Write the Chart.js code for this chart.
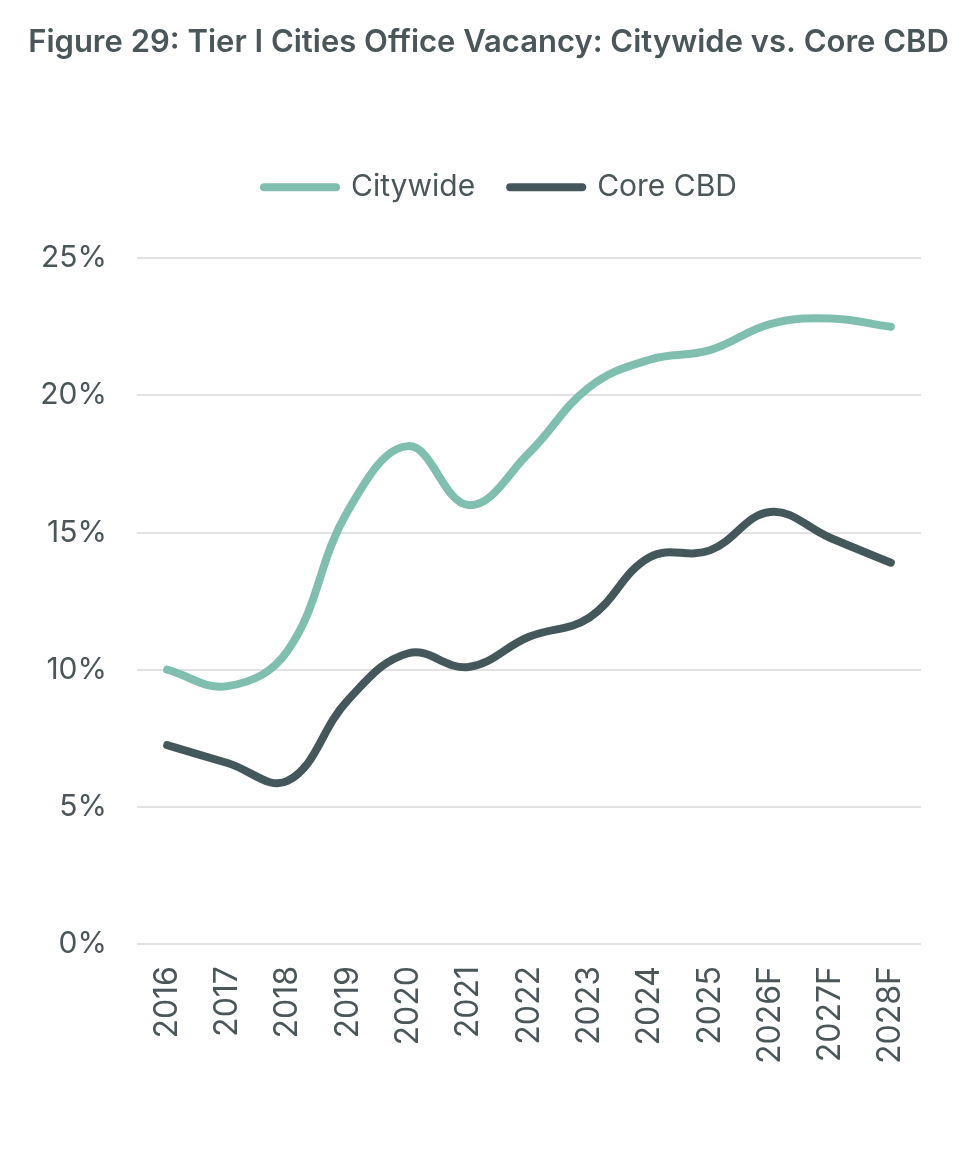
<!DOCTYPE html>
<html>
<head>
<meta charset="utf-8">
<script src="https://cdn.jsdelivr.net/npm/chart.js@4"></script>
<style>
  html, body { margin: 0; padding: 0; background: #ffffff; }
  #wrap { width: 978px; height: 1161px; }
</style>
</head>
<body>
<div id="wrap"><canvas id="vacancy"></canvas></div>
<script>
const years = ['2016', '2017', '2018', '2019', '2020', '2021', '2022', '2023', '2024', '2025', '2026F', '2027F', '2028F']
const citywide = [10.0, 9.4, 10.7, 15.8, 18.15, 16.0, 17.9, 20.3, 21.3, 21.65, 22.6, 22.8, 22.5]
const coreCBD = [7.25, 6.6, 5.95, 8.9, 10.6, 10.1, 11.2, 11.9, 14.1, 14.35, 15.75, 14.8, 13.9]
const yTicks = [0, 5, 10, 15, 20, 25]

const textColor = '#4a5659'
const fontFamily = 'Inter, Roboto, sans-serif'

// extra space under the legend, and center title/legend on the whole page like the original
const layoutTweak = {
  id: 'layoutTweak',
  beforeInit(chart) {
    const fit = chart.legend.fit
    chart.legend.fit = function () {
      fit.bind(chart.legend)()
      this.height += 46
    }
  },
  afterLayout(chart) {
    chart.legend.left += 40
    chart.legend.right += 40
    chart.titleBlock.left += 28
    chart.titleBlock.right += 28
  }
}

new Chart(document.getElementById('vacancy'), {
  type: 'line',
  plugins: [layoutTweak],
  data: {
    labels: years,
    datasets: [
      {
        label: 'Citywide',
        data: citywide,
        borderColor: '#80bfb0',
        backgroundColor: '#80bfb0',
        borderWidth: 8,
        borderCapStyle: 'round',
        pointRadius: 0,
        tension: 0.4
      },
      {
        label: 'Core CBD',
        data: coreCBD,
        borderColor: '#44575a',
        backgroundColor: '#44575a',
        borderWidth: 8,
        borderCapStyle: 'round',
        pointRadius: 0,
        tension: 0.4
      }
    ]
  },
  options: {
    responsive: true,
    maintainAspectRatio: false,
    animation: false,
    layout: { padding: { top: 0, left: 0, right: 57, bottom: 75 } },
    plugins: {
      title: {
        display: true,
        text: 'Figure 29: Tier I Cities Office Vacancy: Citywide vs. Core CBD',
        color: textColor,
        font: { family: fontFamily, size: 31, weight: '600' },
        padding: { top: 24, bottom: 76 }
      },
      legend: {
        display: true,
        labels: {
          color: textColor,
          font: { family: fontFamily, size: 30 },
          usePointStyle: true,
          pointStyleWidth: 72,
          boxHeight: 8,
          padding: 35,
          generateLabels(chart) {
            return chart.data.datasets.map((ds, i) => ({
              text: ds.label,
              fillStyle: ds.borderColor,
              strokeStyle: ds.borderColor,
              lineWidth: 8,
              lineCap: 'round',
              pointStyle: 'line',
              fontColor: textColor,
              datasetIndex: i
            }))
          }
        }
      },
      tooltip: { enabled: false }
    },
    scales: {
      x: {
        offset: true,
        grid: { display: false, drawTicks: false },
        border: { display: false },
        ticks: {
          color: textColor,
          font: { family: fontFamily, size: 32 },
          maxRotation: 90,
          minRotation: 90,
          padding: 22
        }
      },
      y: {
        min: 0,
        max: 25,
        afterFit(scale) { scale.width = 137 },
        afterBuildTicks(scale) { scale.ticks = yTicks.map(v => ({ value: v })) },
        grid: { color: '#e2e2e2', lineWidth: 2, drawTicks: false },
        border: { display: false },
        ticks: {
          color: textColor,
          font: { family: fontFamily, size: 30 },
          padding: 30,
          callback: v => v + '%'
        }
      }
    }
  }
})
</script>
</body>
</html>
